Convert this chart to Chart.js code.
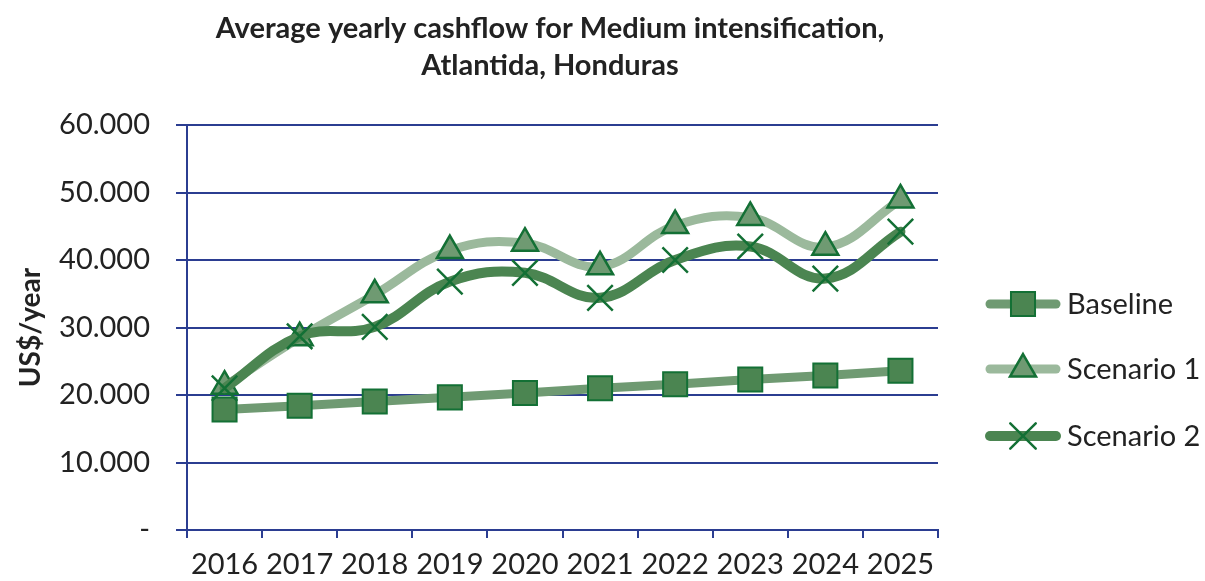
<!DOCTYPE html>
<html>
<head>
<meta charset="utf-8">
<script src="https://cdn.jsdelivr.net/npm/chart.js@4"></script>
<style>
  html, body { margin: 0; background: #fff; }
</style>
</head>
<body>
<canvas id="myChart" width="1205" height="581"></canvas>
<script>
const years = ['2016', '2017', '2018', '2019', '2020', '2021', '2022', '2023', '2024', '2025'];
const baseline = [17850, 18400, 19050, 19650, 20300, 21000, 21600, 22300, 22900, 23600];
const scenario1 = [21300, 28500, 34850, 41400, 42500, 39000, 45100, 46300, 41900, 48900];
const scenario2 = [21000, 28700, 30100, 36800, 38100, 34400, 40000, 42000, 37250, 44200];
const seriesNames = ['Baseline', 'Scenario 1', 'Scenario 2'];
const titleLines = ['Average yearly cashflow for Medium intensification,', 'Atlantida, Honduras'];
const yTitle = 'US$/year';
const yMin = 0, yMax = 60000, yStep = 10000;

const navy = '#2b3d91';
const markerEdge = '#137035';
const textColor = '#222222';

// title + legend drawn by hand so they sit where Excel put them
const extras = {
  id: 'extras',
  afterDraw(chart) {
    const ctx = chart.ctx;
    ctx.save();
    ctx.fillStyle = textColor;
    ctx.textAlign = 'center';
    ctx.textBaseline = 'alphabetic';
    ctx.font = 'bold 29px Lato';
    ctx.fillText(titleLines[0], 550, 38);
    ctx.fillText(titleLines[1], 550, 75);

    const legendY = [304, 369, 436];
    chart.data.datasets.forEach((ds, i) => {
      const y = legendY[i];
      ctx.strokeStyle = ds.borderColor;
      ctx.lineWidth = ds.borderWidth;
      ctx.lineCap = 'round';
      ctx.beginPath();
      ctx.moveTo(990, y);
      ctx.lineTo(1056, y);
      ctx.stroke();
      ctx.fillStyle = ds.pointBackgroundColor;
      ctx.strokeStyle = ds.pointBorderColor;
      ctx.lineWidth = ds.pointBorderWidth;
      Chart.helpers.drawPoint(ctx, {
        pointStyle: ds.pointStyle,
        radius: ds.pointRadius,
        borderWidth: ds.pointBorderWidth,
        rotation: 0
      }, 1023, y);
      ctx.fillStyle = textColor;
      ctx.textAlign = 'left';
      ctx.textBaseline = 'middle';
      ctx.font = '29px Lato';
      ctx.fillText(ds.label, 1067, y + 1);
    });
    ctx.restore();
  }
};

const ctx = document.getElementById('myChart').getContext('2d');
const myChart = new Chart(ctx, {
  type: 'line',
  data: {
    labels: years,
    datasets: [{
      label: seriesNames[0],
      data: baseline,
      borderColor: '#6f9a72',
      borderWidth: 9,
      tension: 0,
      pointStyle: 'rect',
      pointRadius: 17,
      pointBackgroundColor: '#4b8551',
      pointBorderColor: markerEdge,
      pointBorderWidth: 2,
      order: 3
    }, {
      label: seriesNames[1],
      data: scenario1,
      borderColor: '#9bb99c',
      borderWidth: 9,
      tension: 0.4,
      pointStyle: 'triangle',
      pointRadius: 15,
      pointBackgroundColor: '#6f9a72',
      pointBorderColor: markerEdge,
      pointBorderWidth: 2.5,
      order: 2
    }, {
      label: seriesNames[2],
      data: scenario2,
      borderColor: '#4b8551',
      borderWidth: 10,
      tension: 0.4,
      pointStyle: 'crossRot',
      pointRadius: 18,
      pointBackgroundColor: markerEdge,
      pointBorderColor: markerEdge,
      pointBorderWidth: 2.5,
      order: 1
    }]
  },
  options: {
    responsive: false,
    animation: false,
    borderCapStyle: 'round',
    layout: {
      padding: { top: 125, right: 267, bottom: 0, left: 0 }
    },
    scales: {
      x: {
        offset: true,
        grid: {
          offset: true,
          drawOnChartArea: false,
          drawTicks: true,
          tickLength: 8,
          color: navy,
          lineWidth: 2
        },
        border: { color: navy, width: 2 },
        ticks: {
          color: textColor,
          font: { family: 'Lato', size: 29 },
          padding: 9,
          maxRotation: 0,
          autoSkip: false
        },
        afterFit(scale) { scale.height = 51; }
      },
      y: {
        min: yMin,
        max: yMax,
        grid: {
          color: navy,
          lineWidth: 2,
          drawTicks: true,
          tickLength: 11
        },
        border: { color: navy, width: 2 },
        ticks: {
          stepSize: yStep,
          color: textColor,
          font: { family: 'Lato', size: 29 },
          padding: 26,
          callback: v => v === 0 ? '-' : (v / 1000) + '.000'
        },
        title: {
          display: true,
          text: yTitle,
          color: textColor,
          font: { family: 'Lato', size: 28, weight: 'bold' },
          padding: { top: 14, bottom: 0 }
        },
        afterFit(scale) { scale.width = 187; }
      }
    },
    plugins: {
      legend: { display: false },
      title: { display: false },
      tooltip: { enabled: false }
    }
  },
  plugins: [extras]
});
</script>
</body>
</html>
